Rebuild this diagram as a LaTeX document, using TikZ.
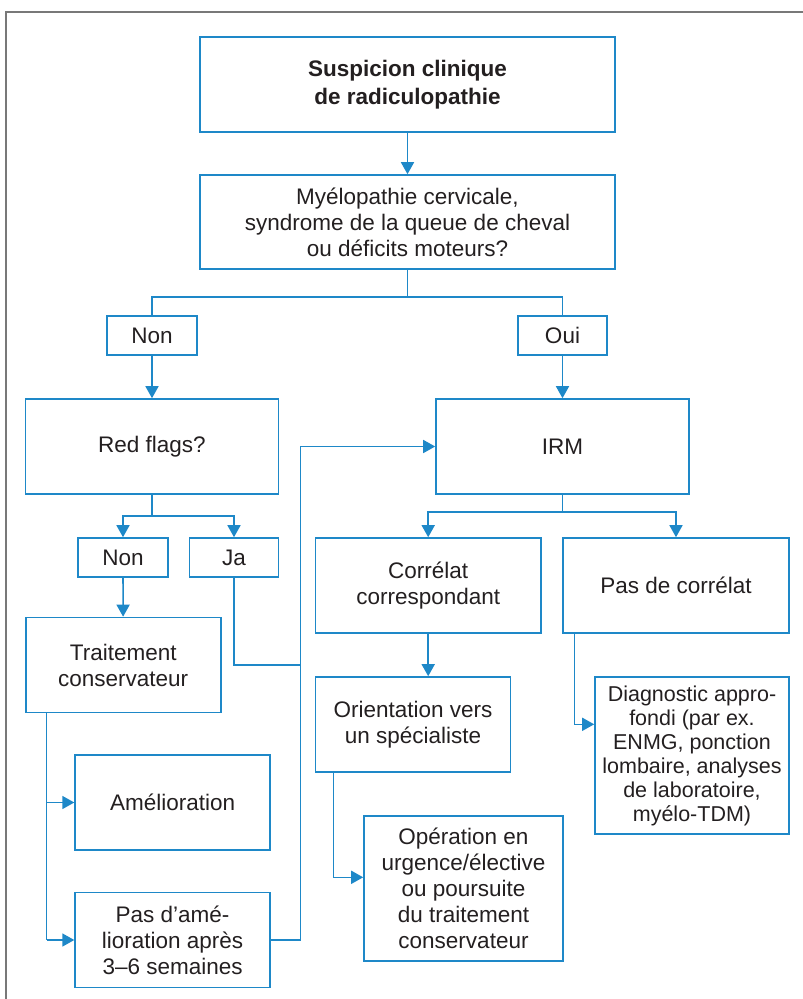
\documentclass[tikz,border=0pt]{standalone}
\usepackage{fontspec}
\setmainfont{Liberation Sans}
\usetikzlibrary{arrows.meta}
\definecolor{lblue}{RGB}{30,136,200}
\definecolor{txt}{RGB}{35,31,32}
\definecolor{frame}{RGB}{120,120,120}
\tikzset{
  box/.style={draw=lblue, line width=1.6pt, rectangle, inner sep=0pt, align=center, text=txt,
    font=\fontsize{22.5}{26}\selectfont},
  conn/.style={draw=lblue, line width=1.6pt},
  arr/.style={conn, -{Triangle[width=13pt,length=12pt]}},
}
\begin{document}
\begin{tikzpicture}[x=1pt,y=-1pt]
\useasboundingbox (0,0) rectangle (803,999);
\draw[frame, line width=1.6pt] (5.7,1000) -- (5.7,11.7) -- (804,11.7);

\node[box, minimum width=415, minimum height=95, font=\bfseries\fontsize{22.5}{28.5}\selectfont] (s1) at (407.5,84.5) {Suspicion clinique\\de radiculopathie};
\node[box, minimum width=415, minimum height=94] (s2) at (407.5,222) {Myélopathie cervicale,\\syndrome de la queue de cheval\\ou déficits moteurs?};
\node[box, minimum width=90, minimum height=39] (non1) at (152,335.5) {Non};
\node[box, minimum width=89, minimum height=39] (oui) at (562.5,335.5) {Oui};
\node[box, minimum width=253, minimum height=95] (red) at (152,446.5) {Red flags?};
\node[box, minimum width=253, minimum height=95] (irm) at (562.5,446.5) {IRM};
\node[box, minimum width=90, minimum height=39] (non2) at (123,557.5) {Non};
\node[box, minimum width=89, minimum height=39] (ja) at (234,557.5) {Ja};
\node[box, minimum width=225.6, minimum height=95] (corr) at (428.2,585.5) {Corrélat\\correspondant};
\node[box, minimum width=226, minimum height=95] (pasc) at (676,585.5) {Pas de corrélat};
\node[box, minimum width=195, minimum height=95] (trait) at (123.2,665) {Traitement\\conservateur};
\node[box, minimum width=195, minimum height=95] (amel) at (172.6,802.5) {Amélioration};
\node[box, minimum width=195, minimum height=95] (pasam) at (172.6,940) {Pas d’amé-\\lioration après\\3–6 semaines};
\node[box, minimum width=195, minimum height=95] (orient) at (413,724.5) {Orientation vers\\un spécialiste};
\node[box, minimum width=199, minimum height=145] (oper) at (463.5,888.5) {Opération en\\urgence/élective\\ou poursuite\\du traitement\\conservateur};
\node[box, minimum width=194, minimum height=157, font=\fontsize{21.5}{24}\selectfont] (diag) at (692,755.5) {Diagnostic appro-\\fondi (par ex.\\ENMG, ponction\\lombaire, analyses\\de laboratoire,\\myélo-TDM)};

% top
\draw[arr] (s1) -- (s2);
\coordinate (j1) at (407.5,297);
\draw[conn] (s2.south) -- (j1);
\draw[conn] (non1.north) |- (j1) -| (oui.north);
\draw[arr] (non1) -- (red);
\draw[arr] (oui) -- (irm);

% red flags split
\coordinate (j2) at (152,516);
\draw[conn] (red.south) -- (j2);
\draw[arr] (j2) -| (non2.north);
\draw[arr] (j2) -| (ja.north);
\draw[arr] (non2) -- (trait);

% IRM split
\coordinate (j3) at (562.5,512);
\draw[conn] (irm.south) -- (j3);
\draw[arr] (j3) -| (corr.north);
\draw[arr] (j3) -| (pasc.north);

% return path to IRM
\coordinate (rv) at (300.6,664.7);
\coordinate (rt) at (300.6,446.5);
\draw[conn] (ja.south) |- (rv);
\draw[arr] (pasam.east) -| (rv) -- (rt) -- (irm.west);

% traitement branches
\coordinate (t0) at (46.6,712.5);
\coordinate (t1) at (46.6,802.5);
\coordinate (t2) at (46.6,940);
\draw[conn] (t0) -- (t2);
\draw[arr] (t1) -- (amel.west);
\draw[arr] (t2) -- (pasam.west);

% correlat
\draw[arr] (corr.south) -- (corr.south |- orient.north);
\coordinate (o0) at (333.3,772);
\coordinate (o1) at (333.3,877.3);
\draw[arr] (o0) -- (o1) -- (o1 -| oper.west);

% pas de correlat
\coordinate (p0) at (574.5,633);
\coordinate (p1) at (574.5,724.3);
\draw[arr] (p0) -- (p1) -- (p1 -| diag.west);
\end{tikzpicture}
\end{document}
